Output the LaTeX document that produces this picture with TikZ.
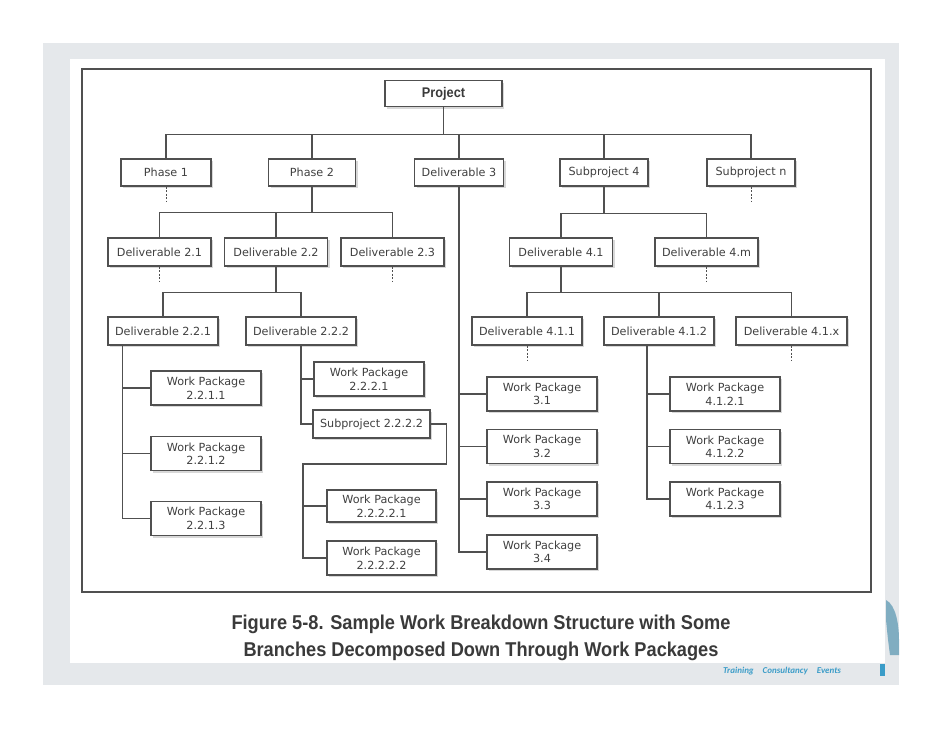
\documentclass[tikz,border=0pt]{standalone}
\usepackage{fontspec}
\newfontfamily\boxfont{DejaVu Sans}
\newfontfamily\capfont[FakeStretch=0.91]{Liberation Sans}
\newfontfamily\tagfont{Carlito}
\usetikzlibrary{shadows,calc}

\definecolor{bggray}{HTML}{E5E8EB}
\definecolor{inkgray}{HTML}{404040}
\definecolor{linegray}{HTML}{505050}
\definecolor{capgray}{HTML}{3A3A3A}
\definecolor{tagblue}{HTML}{3A9CC8}

\begin{document}
\begin{tikzpicture}[
    x=1pt, y=-1pt,
    wbs/.style={
        draw=linegray,
        line width=1.1pt,
        fill=white,
        inner sep=0pt,
        minimum height=27pt,
        text=inkgray,
        font=\boxfont\fontsize{11.2}{13.5}\selectfont,
        drop shadow={shadow xshift=2pt, shadow yshift=-2pt, fill=gray, opacity=0.3}
    },
    wp/.style={wbs, minimum width=110pt, minimum height=34pt, align=center},
    link/.style={draw=linegray, line width=1.1pt},
    stub/.style={draw=linegray, line width=1pt, dash pattern=on 2pt off 1.5pt}
]
\useasboundingbox (0,0) rectangle (942,728);

% Slide background
\fill[white] (0,0) rectangle (942,728);
\fill[bggray] (43,43) rectangle (899,685);
\fill[white] (70,59) rectangle (885,663);
\fill[tagblue!80!black, opacity=0.55] (886,600) .. controls (896,605) and (899,625) .. (899,640)
    -- (899,655) -- (890,655) .. controls (888,640) .. (886,620) -- cycle;
\fill[tagblue] (880,664) rectangle (885,676);
\draw[linegray, line width=1.2pt] (82,69) rectangle (871,592);

% Level 0 and 1
\node[wbs, minimum width=117pt, minimum height=26pt, text=capgray,
      font=\capfont\bfseries\fontsize{14}{16}\selectfont] (proj) at (443.5,93.5) {Project};
\node[wbs, minimum width=90pt] (ph1) at (166,172.5) {Phase 1};
\node[wbs, minimum width=87pt] (ph2) at (312,172.5) {Phase 2};
\node[wbs, minimum width=89pt] (del3) at (459,172.5) {Deliverable 3};
\node[wbs, minimum width=88pt] (sub4) at (604,172.5) {Subproject 4};
\node[wbs, minimum width=88pt] (subn) at (751,172.5) {Subproject n};

% Level 2
\node[wbs, minimum width=103pt, minimum height=28pt] (d21) at (159.5,252) {Deliverable 2.1};
\node[wbs, minimum width=103pt, minimum height=28pt] (d22) at (276,252) {Deliverable 2.2};
\node[wbs, minimum width=103pt, minimum height=28pt] (d23) at (392.5,252) {Deliverable 2.3};
\node[wbs, minimum width=103pt, minimum height=28pt] (d41) at (561,252) {Deliverable 4.1};
\node[wbs, minimum width=103pt, minimum height=28pt] (d4m) at (706.5,252) {Deliverable 4.m};

% Level 3
\node[wbs, minimum width=110pt, minimum height=28pt] (d221) at (163,331) {Deliverable 2.2.1};
\node[wbs, minimum width=110pt, minimum height=28pt] (d222) at (301,331) {Deliverable 2.2.2};
\node[wbs, minimum width=110pt, minimum height=28pt] (d411) at (527,331) {Deliverable 4.1.1};
\node[wbs, minimum width=110pt, minimum height=28pt] (d412) at (659,331) {Deliverable 4.1.2};
\node[wbs, minimum width=111pt, minimum height=28pt] (d41x) at (791.5,331) {Deliverable 4.1.x};

% Work packages
\node[wp] (wp2211) at (206,388) {Work Package\\2.2.1.1};
\node[wp] (wp2212) at (206,453.5) {Work Package\\2.2.1.2};
\node[wp] (wp2213) at (206,518.5) {Work Package\\2.2.1.3};
\node[wp] (wp2221) at (369,379) {Work Package\\2.2.2.1};
\node[wbs, minimum width=117pt, minimum height=28pt] (sub2222) at (371.5,424) {Subproject 2.2.2.2};
\node[wp, minimum width=109pt, minimum height=32pt] (wp22221) at (381.5,506) {Work Package\\2.2.2.2.1};
\node[wp, minimum width=109pt] (wp22222) at (381.5,558) {Work Package\\2.2.2.2.2};
\node[wp] (wp31) at (542,394) {Work Package\\3.1};
\node[wp] (wp32) at (542,446.5) {Work Package\\3.2};
\node[wp] (wp33) at (542,499) {Work Package\\3.3};
\node[wp] (wp34) at (542,552) {Work Package\\3.4};
\node[wp] (wp4121) at (725,394) {Work Package\\4.1.2.1};
\node[wp] (wp4122) at (725,446.5) {Work Package\\4.1.2.2};
\node[wp] (wp4123) at (725,499) {Work Package\\4.1.2.3};

% Tree connectors
\coordinate (bus0) at ($(proj.south)+(0,27)$);
\draw[link] (proj.south) -- (bus0);
\foreach \c in {ph1,ph2,del3,sub4,subn}
    \draw[link] (\c.north) |- (bus0);

\coordinate (bus2) at ($(ph2.south)+(0,26)$);
\draw[link] (ph2.south) -- (bus2);
\foreach \c in {d21,d22,d23}
    \draw[link] (\c.north) |- (bus2);

\coordinate (bus4) at ($(sub4.south)+(0,27)$);
\draw[link] (sub4.south) -- (bus4);
\foreach \c in {d41,d4m}
    \draw[link] (\c.north) |- (bus4);

\coordinate (bus22) at ($(d22.south)+(0,26)$);
\draw[link] (d22.south) -- (bus22);
\foreach \c in {d221,d222}
    \draw[link] (\c.north) |- (bus22);

\coordinate (bus41) at ($(d41.south)+(0,26)$);
\draw[link] (d41.south) -- (bus41);
\foreach \c in {d411,d412,d41x}
    \draw[link] (\c.north) |- (bus41);

% Side rails down to work packages
\coordinate (t221) at ([xshift=15pt]d221.south west);
\draw[link] (t221) |- (wp2213.west);
\foreach \w in {wp2211,wp2212}
    \draw[link] (\w.west) -| (t221);

\draw[link] (d222.south) |- (sub2222.west);
\draw[link] (wp2221.west) -| (d222.south);

\coordinate (j2222) at (303,464);
\draw[link] (sub2222.east) -- ++(16,0) |- (j2222) |- (wp22222.west);
\draw[link] (wp22221.west) -| (j2222);

\draw[link] (del3.south) |- (wp34.west);
\foreach \w in {wp31,wp32,wp33}
    \draw[link] (\w.west) -| (del3.south);

\coordinate (t412) at ([xshift=-12pt]d412.south);
\draw[link] (t412) |- (wp4123.west);
\foreach \w in {wp4121,wp4122}
    \draw[link] (\w.west) -| (t412);

% Dotted stubs
\foreach \c in {ph1,subn,d21,d23,d4m,d411,d41x}
    \draw[stub] (\c.south) -- ++(0,15);

% Caption
\node[font=\capfont\bfseries\fontsize{20}{27}\selectfont, text=capgray, align=center] (cap) at (481,638)
    {Figure 5-8. Sample Work Breakdown Structure with Some\\Branches Decomposed Down Through Work Packages};
\node[font=\tagfont\itshape\bfseries\fontsize{9}{10}\selectfont, text=tagblue] (tag) at (782,671)
    {Training\quad Consultancy\quad Events};

\end{tikzpicture}
\end{document}
